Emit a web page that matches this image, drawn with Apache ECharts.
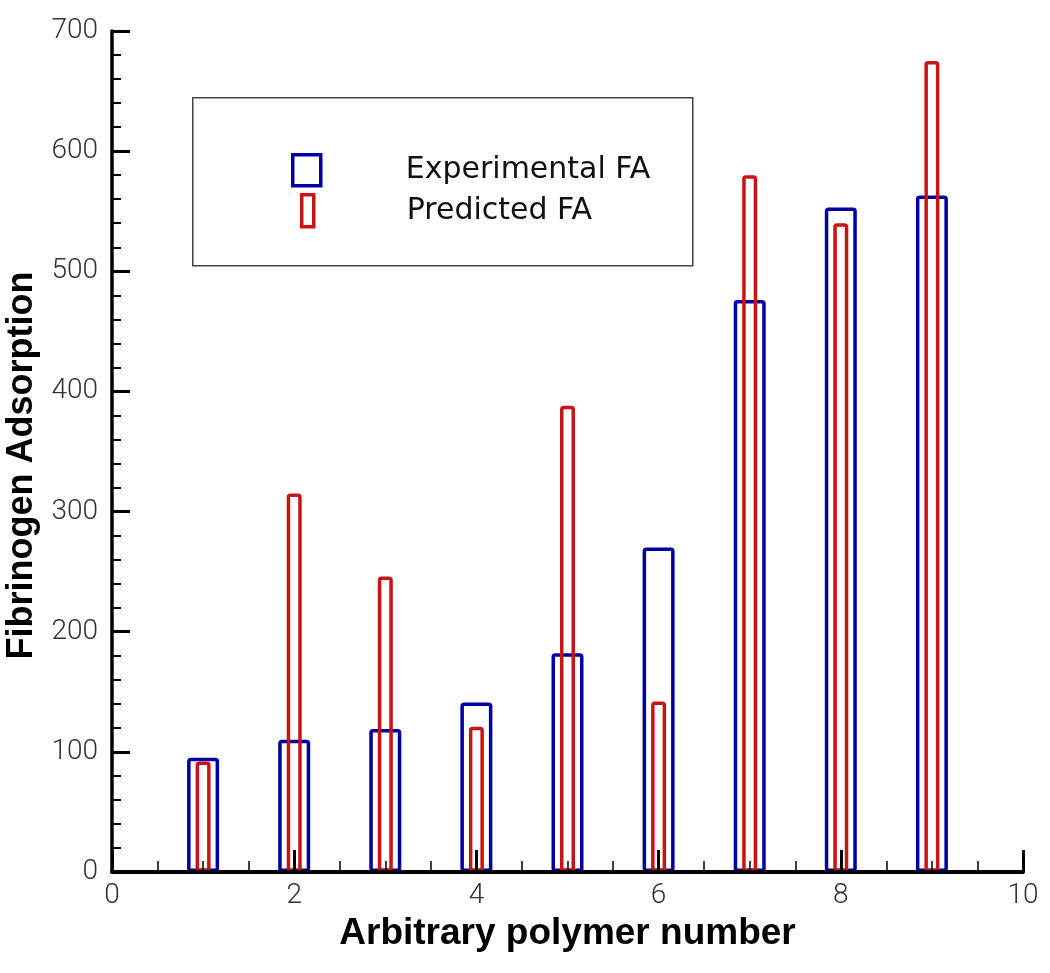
<!DOCTYPE html>
<html>
<head>
<meta charset="utf-8">
<script src="https://cdn.jsdelivr.net/npm/echarts@6/dist/echarts.min.js"></script>
<style>
  html, body { margin: 0; padding: 0; background: #ffffff; }
  #chart { width: 1050px; height: 973px; }
</style>
</head>
<body>
<div id="chart"></div>
<script>
// Polymer numbers (x positions)
const polymers = [1, 2, 3, 4, 5, 6, 7, 8, 9];
// Experimental fibrinogen adsorption
const experimentalFA = [95, 110, 119, 141, 182, 270, 476, 553, 563];
// Predicted fibrinogen adsorption
const predictedFA = [92, 315, 246, 121, 388, 142, 580, 540, 675];
// Axis titles and legend names
const xTitle = 'Arbitrary polymer number';
const yTitle = 'Fibrinogen Adsorption';
const seriesNames = ['Experimental FA', 'Predicted FA'];

const BLUE = '#0000a0';
const RED = '#c81414';

const chart = echarts.init(document.getElementById('chart'), null, { renderer: 'canvas' });

const tickFont = { fontFamily: 'Roboto', fontWeight: 300, fontSize: 28, color: '#333333' };

const xAxisBase = {
  type: 'value',
  min: 0,
  max: 10,
  interval: 2,
  splitLine: { show: false }
};

const option = {
  backgroundColor: '#ffffff',
  animation: false,
  grid: { left: 112, right: 27, top: 31, bottom: 101, containLabel: false, outerBoundsMode: 'none' },
  graphic: [{
    type: 'rect',
    left: 192, top: 97,
    shape: { width: 500, height: 168 },
    style: { fill: '#ffffff', stroke: '#444444', lineWidth: 1.5 },
    z: 5
  }],
  legend: [{
    data: [seriesNames[0]],
    left: 291, top: 153,
    padding: 0,
    itemWidth: 28, itemHeight: 31,
    icon: 'rect',
    itemStyle: { color: 'rgba(0,0,0,0)', borderColor: BLUE, borderWidth: 3.5 },
    textStyle: { fontFamily: 'DejaVu Sans', fontSize: 30, color: '#111', padding: [0, 0, 0, 80] },
    selectedMode: false,
    z: 10
  }, {
    data: [seriesNames[1]],
    left: 300, top: 193,
    padding: 0,
    itemWidth: 12, itemHeight: 32,
    icon: 'rect',
    itemStyle: { color: 'rgba(0,0,0,0)', borderColor: RED, borderWidth: 3.5 },
    textStyle: { fontFamily: 'DejaVu Sans', fontSize: 30, color: '#111', padding: [0, 0, 12, 88] },
    selectedMode: false,
    z: 10
  }],
  xAxis: [Object.assign({}, xAxisBase, {
    z: 10,
    name: xTitle,
    nameLocation: 'middle',
    nameGap: 38,
    nameTextStyle: { fontFamily: 'Liberation Sans', fontWeight: 'bold', fontSize: 37, color: '#000' },
    axisLine: { show: true, onZero: false, lineStyle: { color: '#000', width: 4 } },
    axisTick: { show: true, inside: true, length: 22, lineStyle: { color: '#000', width: 3 } },
    minorTick: { show: true, splitNumber: 4, length: 11, lineStyle: { color: '#000', width: 1.5 } },
    axisLabel: Object.assign({ margin: 10 }, tickFont)
  }), Object.assign({}, xAxisBase, {
    show: false
  })],
  yAxis: {
    type: 'value',
    min: 0,
    max: 700,
    interval: 100,
    z: 10,
    name: yTitle,
    nameLocation: 'middle',
    nameGap: 72,
    nameTextStyle: { fontFamily: 'Liberation Sans', fontWeight: 'bold', fontSize: 36, color: '#000', padding: [0, 28, 0, 0] },
    splitLine: { show: false },
    axisLine: { show: true, onZero: false, lineStyle: { color: '#000', width: 3.5 } },
    axisTick: { show: true, inside: true, length: 18, lineStyle: { color: '#000', width: 3 } },
    minorTick: { show: true, splitNumber: 5, length: 9, lineStyle: { color: '#000', width: 2 } },
    axisLabel: Object.assign({ margin: 14 }, tickFont)
  },
  series: [{
    name: seriesNames[0],
    type: 'bar',
    xAxisIndex: 0,
    barWidth: 32,
    data: polymers.map((p, i) => [p, experimentalFA[i]]),
    itemStyle: { color: 'rgba(0,0,0,0)', borderColor: BLUE, borderWidth: 3.5, borderRadius: 2 },
    z: 2
  }, {
    name: seriesNames[1],
    type: 'bar',
    xAxisIndex: 1,
    barWidth: 15,
    data: polymers.map((p, i) => [p, predictedFA[i]]),
    itemStyle: { color: 'rgba(0,0,0,0)', borderColor: RED, borderWidth: 3.5, borderRadius: 2 },
    z: 3
  }]
};

chart.setOption(option);
</script>
</body>
</html>
